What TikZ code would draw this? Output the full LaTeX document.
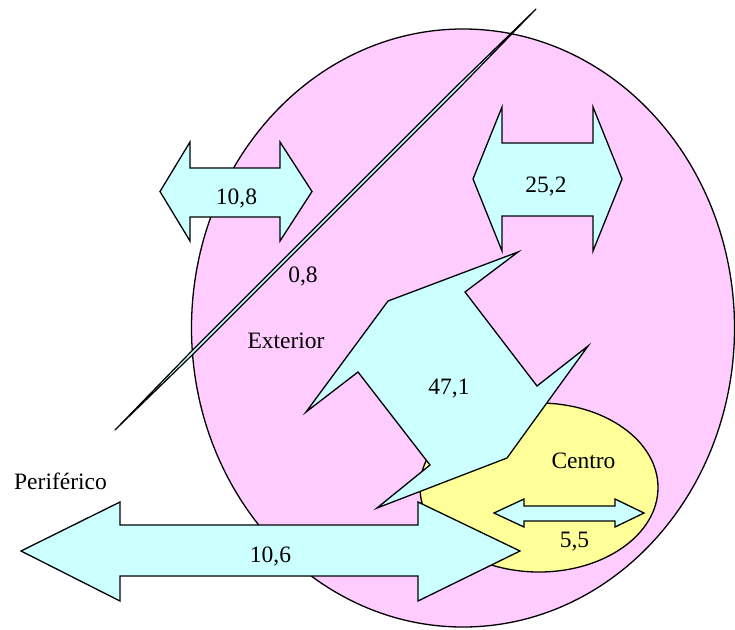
\documentclass[tikz,border=0pt]{standalone}
\usepackage{fontspec}
\setmainfont{Liberation Serif}
\definecolor{pinkfill}{HTML}{FFCCFF}
\definecolor{yellowfill}{HTML}{FFFF99}
\definecolor{flowcyan}{HTML}{CCFFFF}
\begin{document}
\begin{tikzpicture}[x=1pt,y=-1pt]
\tikzset{
  region/.style={draw=black, line width=1.3pt},
  flow/.style={draw=black, fill=flowcyan, line width=1.3pt, line join=miter},
  thinflow/.style={draw=black, fill=flowcyan, line width=1.2pt, line join=round},
  lbl/.style={font=\fontsize{23.5}{28}\selectfont, anchor=base, inner sep=0pt},
}
\useasboundingbox (0,0) rectangle (735,629);
\fill[white] (0,0) rectangle (735,629);

% zones
\draw[region, fill=pinkfill] (463,328) ellipse [x radius=271.5pt, y radius=299pt];
\draw[region, fill=yellowfill] (539,487.5) ellipse [x radius=119pt, y radius=84.5pt];

% thin diagonal flow
\begin{scope}[shift={(115,430)}, rotate=45]
  \draw[thinflow] (0,0) -- (110,1.6) -- (485,1.6)
    -- (595.4,0) -- (485,-1.6) -- (110,-1.6) -- cycle;
\end{scope}

% flows
\draw[flow] (160,191.5) -- (190,142) -- (190,168) -- (280,168) -- (280,142)
  -- (312,191.5) -- (280,241) -- (280,217) -- (190,217) -- (190,241) -- cycle;
\draw[flow] (473,179) -- (502,107) -- (502,143) -- (593,143) -- (593,107)
  -- (622,179) -- (593,251) -- (593,216) -- (502,216) -- (502,251) -- cycle;
\draw[flow] (518,252) -- (465,292) -- (537,386) -- (588,346) -- (507,458)
  -- (377,508) -- (430,465) -- (358,372) -- (306,412) -- (388,301) -- cycle;
\draw[flow] (21,551) -- (120,502) -- (120,525) -- (418,525) -- (418,502)
  -- (520,551) -- (418,601) -- (418,576) -- (120,576) -- (120,601) -- cycle;
\draw[flow] (494,513) -- (524,499) -- (524,506) -- (615,506) -- (615,499)
  -- (644,513) -- (615,527) -- (615,521) -- (524,521) -- (524,527) -- cycle;

% labels
\node[lbl] (periferico) at (60.5,489) {Periférico};
\node[lbl] (exterior) at (286,348) {Exterior};
\node[lbl] (centro) at (583.5,468.5) {Centro};
\node[lbl] (v08) at (303,282) {0,8};
\node[lbl] (v108) at (236.5,204) {10,8};
\node[lbl] (v252) at (546,192) {25,2};
\node[lbl] (v471) at (449,394) {47,1};
\node[lbl] (v106) at (270.5,562) {10,6};
\node[lbl] (v55) at (574.5,547) {5,5};
\end{tikzpicture}
\end{document}
